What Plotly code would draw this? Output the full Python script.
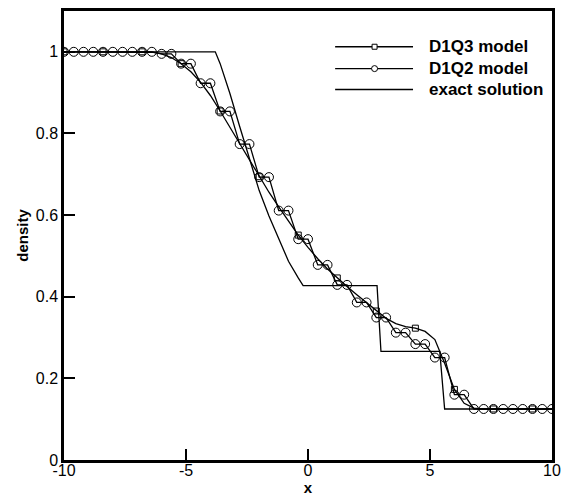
import plotly.graph_objects as go

# Grid positions of the lattice-Boltzmann solutions
grid_x = [-10.0, -9.6, -9.2, -8.8, -8.4, -8.0, -7.6, -7.2, -6.8, -6.4,
          -6.0, -5.6, -5.2, -4.8, -4.4, -4.0, -3.6, -3.2, -2.8, -2.4,
          -2.0, -1.6, -1.2, -0.8, -0.4, 0.0, 0.4, 0.8, 1.2, 1.6,
          2.0, 2.4, 2.8, 3.2, 3.6, 4.0, 4.4, 4.8, 5.2, 5.6,
          6.0, 6.4, 6.8, 7.2, 7.6, 8.0, 8.4, 8.8, 9.2, 9.6, 10.0]

# Density of the D1Q3 model
d1q3_rho = [1.0, 1.0, 1.0, 1.0, 1.0, 1.0, 1.0, 1.0, 1.0, 0.999,
            0.995, 0.986, 0.971, 0.951, 0.925, 0.893, 0.855, 0.815, 0.775, 0.734,
            0.694, 0.656, 0.620, 0.584, 0.551, 0.521, 0.493, 0.468, 0.446, 0.425,
            0.405, 0.385, 0.365, 0.347, 0.334, 0.327, 0.323, 0.315, 0.295, 0.237,
            0.173, 0.139, 0.127, 0.125, 0.125, 0.125, 0.125, 0.125, 0.125, 0.125, 0.125]

# Density of the D1Q2 model
d1q2_rho = [1.0, 1.0, 1.0, 1.0, 1.0, 1.0, 1.0, 1.0, 1.0, 1.0,
            0.995, 0.995, 0.971, 0.971, 0.923, 0.923, 0.854, 0.854, 0.774, 0.774,
            0.693, 0.693, 0.611, 0.611, 0.541, 0.541, 0.478, 0.478, 0.429, 0.429,
            0.386, 0.386, 0.349, 0.349, 0.312, 0.312, 0.284, 0.284, 0.251, 0.251,
            0.160, 0.160, 0.125, 0.125, 0.125, 0.125, 0.125, 0.125, 0.125, 0.125, 0.125]

# Exact Riemann solution (rarefaction, contact, shock)
exact_x = [-10.0, -3.8, -3.6, -3.2, -2.8, -2.4, -2.0, -1.6, -1.2, -0.8, -0.4, -0.2,
           2.83, 2.99, 5.4, 5.6, 10.0]
exact_rho = [1.0, 1.0, 0.971, 0.898, 0.817, 0.737, 0.660, 0.598, 0.541, 0.487, 0.446, 0.427,
             0.427, 0.266, 0.266, 0.125, 0.125]

x_ticks = [-10, -5, 0, 5, 10]
y_ticks = [0, 0.2, 0.4, 0.6, 0.8, 1]
y_ticktext = ["0", "0.2", "0.4", "0.6", "0.8", "1"]

legend_labels = ["D1Q3 model", "D1Q2 model", "exact solution"]

FONT = "Liberation Sans, Arial, Helvetica, sans-serif"
BLACK = "black"

fig = go.Figure()

fig.add_trace(go.Scatter(x=exact_x, y=exact_rho, mode="lines",
                         line=dict(color=BLACK, width=1.3), showlegend=False))

fig.add_trace(go.Scatter(x=grid_x, y=d1q3_rho, mode="lines",
                         line=dict(color=BLACK, width=1.3), showlegend=False))
# square symbols on every fourth grid point
fig.add_trace(go.Scatter(x=grid_x[::4], y=d1q3_rho[::4], mode="markers",
                         marker=dict(symbol="square-open", size=6, color=BLACK,
                                     line=dict(color=BLACK, width=1)),
                         showlegend=False))

fig.add_trace(go.Scatter(x=grid_x, y=d1q2_rho, mode="lines+markers",
                         line=dict(color=BLACK, width=1.3),
                         marker=dict(symbol="circle-open", size=9, color=BLACK,
                                     line=dict(color=BLACK, width=1)),
                         showlegend=False))

# Legend drawn in paper coordinates: long line with a centred symbol
leg_y = [0.9204, 0.8717, 0.8252]
leg_x0, leg_x1, leg_xm, leg_tx = 0.5556, 0.7152, 0.6364, 0.7435
for i, label in enumerate(legend_labels):
    fig.add_shape(type="line", xref="paper", yref="paper",
                  x0=leg_x0, x1=leg_x1, y0=leg_y[i], y1=leg_y[i],
                  line=dict(color=BLACK, width=1.3))
    if i == 0:
        fig.add_shape(type="rect", xref="paper", yref="paper",
                      xsizemode="pixel", ysizemode="pixel",
                      xanchor=leg_xm, yanchor=leg_y[i],
                      x0=-2.5, x1=2.5, y0=-2.5, y1=2.5,
                      line=dict(color=BLACK, width=1), fillcolor="white")
    elif i == 1:
        fig.add_shape(type="circle", xref="paper", yref="paper",
                      xsizemode="pixel", ysizemode="pixel",
                      xanchor=leg_xm, yanchor=leg_y[i],
                      x0=-3, x1=3, y0=-3, y1=3,
                      line=dict(color=BLACK, width=1), fillcolor="white")
    fig.add_annotation(xref="paper", yref="paper", x=leg_tx, y=leg_y[i],
                       text=f"<b>{label}</b>", showarrow=False,
                       xanchor="left", yanchor="middle",
                       font=dict(family=FONT, size=17, color=BLACK))

axis_common = dict(showgrid=False, zeroline=False, showline=True, linecolor=BLACK,
                   linewidth=2.5, mirror=True, ticks="inside", ticklen=11,
                   tickwidth=2, tickcolor=BLACK,
                   tickfont=dict(family=FONT, size=16, color=BLACK))

fig.update_xaxes(range=[-10, 10], tickvals=x_ticks, ticktext=[str(v) for v in x_ticks],
                 title=dict(text="<b>x</b>", font=dict(family=FONT, size=15, color=BLACK),
                            standoff=0),
                 ticklabelstandoff=-6, **axis_common)
fig.update_yaxes(range=[0, 1.1], tickvals=y_ticks, ticktext=y_ticktext,
                 title=dict(text="<b>density</b>", font=dict(family=FONT, size=15, color=BLACK),
                            standoff=4),
                 **axis_common)

fig.update_layout(width=569, height=499, plot_bgcolor="white", paper_bgcolor="white",
                  margin=dict(l=64, r=10, t=8, b=39), showlegend=False,
                  font=dict(family=FONT, color=BLACK))

fig.write_html("out.html")
